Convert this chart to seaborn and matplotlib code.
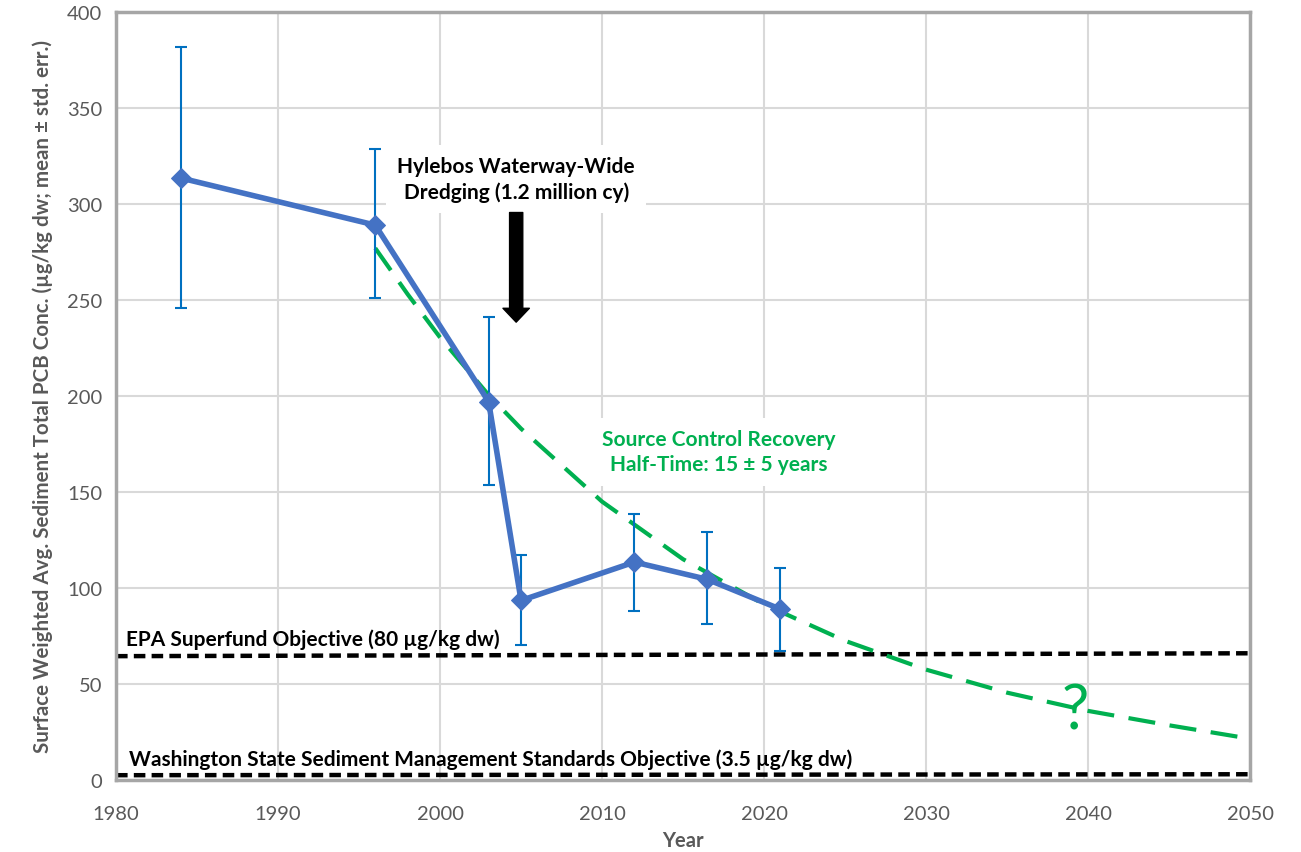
import matplotlib.pyplot as plt
import pandas as pd
import seaborn as sns

# survey means with std. errors
years = [1984, 1996, 2003, 2005, 2012, 2016.5, 2021]
pcb_mean = [313.5, 289, 197, 93.5, 113.5, 104.5, 89]
err_hi = [382, 328.5, 241, 117, 138.5, 129, 110.5]
err_lo = [246, 251, 153.5, 70.5, 88, 81, 67]

# recovery curve
fit_years = [1996, 1998, 2000, 2003, 2005, 2010, 2015, 2020, 2025, 2030, 2035, 2040, 2045, 2050]
fit_vals = [277, 253, 230.5, 200.5, 183, 145, 115, 91.5, 72.5, 57.5, 45.5, 36, 28.5, 21.5]

# objectives as drawn
obj_years = [1980, 2050]
epa_vals = [64.5, 66]
wa_vals = [2.5, 3]

df = pd.DataFrame({"Year": years, "PCB": pcb_mean})
fit = pd.DataFrame({"Year": fit_years, "PCB": fit_vals})

sns.set_style("whitegrid")
plt.rcParams['font.family'] = ['Lato', 'DejaVu Sans']

fig = plt.figure(figsize=(13.01, 8.53), dpi=100)
ax = fig.add_axes([0.0892, 0.0844, 0.8716, 0.9004])

ax.plot(obj_years, epa_vals, color='black', lw=3.2, dashes=(2.6, 1.4), zorder=2)
ax.plot(obj_years, wa_vals, color='black', lw=3.2, dashes=(2.6, 1.4), zorder=2, clip_on=False)

sns.lineplot(data=fit, x="Year", y="PCB", ax=ax, color='#00B050', lw=3, zorder=3)
ax.lines[-1].set_dashes((6.5, 3.5))

lo = [m - l for m, l in zip(pcb_mean, err_lo)]
hi = [h - m for m, h in zip(pcb_mean, err_hi)]
ax.errorbar(years, pcb_mean, yerr=[lo, hi], fmt='none', ecolor='#0070C0',
            elinewidth=1.5, capsize=4.5, capthick=1.5, zorder=4)
sns.lineplot(data=df, x="Year", y="PCB", ax=ax, color='#4472C4', lw=4,
             marker='D', markersize=10, markeredgecolor='#4472C4', zorder=5)

ax.set_xlim(1980, 2050)
ax.set_ylim(0, 400)
ax.set_xticks(range(1980, 2051, 10))
ax.set_yticks(range(0, 401, 50))
ax.grid(color='#D9D9D9', lw=1.5)
for s in ax.spines.values():
    s.set_visible(True)
    s.set_color('#A6A6A6')
    s.set_linewidth(2.5)
ax.tick_params(axis='both', length=0, labelsize=14.5, labelcolor='#595959')
ax.tick_params(axis='x', pad=18)
ax.tick_params(axis='y', pad=10)

ax.set_xlabel("Year", fontsize=14.5, fontweight='bold', color='#595959', labelpad=6)
ax.set_ylabel("Surface Weighted Avg. Sediment Total PCB Conc. (µg/kg dw; mean ± std. err.)",
              fontsize=14.8, fontweight='bold', color='#595959', labelpad=10)

ax.text(2004.7, 313, "Hylebos Waterway-Wide\nDredging (1.2 million cy)", ha='center', va='center',
        fontsize=15, fontweight='bold', color='black', linespacing=1.35, zorder=6,
        bbox=dict(facecolor='white', edgecolor='none', pad=8))
ax.annotate("", xy=(2004.7, 237), xytext=(2004.7, 297),
            arrowprops=dict(arrowstyle='simple,head_width=1.9,head_length=1.0,tail_width=0.95',
                            color='black'), zorder=6)

ax.text(2017.2, 171, "Source Control Recovery\nHalf-Time: 15 ± 5 years", ha='center', va='center',
        fontsize=15, fontweight='bold', color='#00B050', linespacing=1.35, zorder=6,
        bbox=dict(facecolor='white', edgecolor='none', pad=8))
ax.text(2039.2, 36, "?", ha='center', va='center', fontsize=44, color='#00B050', zorder=6)

ax.text(1980.6, 68, "EPA Superfund Objective (80 µg/kg dw)", ha='left', va='bottom',
        fontsize=15, fontweight='bold', color='black', zorder=6)
ax.text(1980.8, 5.5, "Washington State Sediment Management Standards Objective (3.5 µg/kg dw)",
        ha='left', va='bottom', fontsize=15, fontweight='bold', color='black', zorder=6)

fig.savefig("out.png", dpi=100)
